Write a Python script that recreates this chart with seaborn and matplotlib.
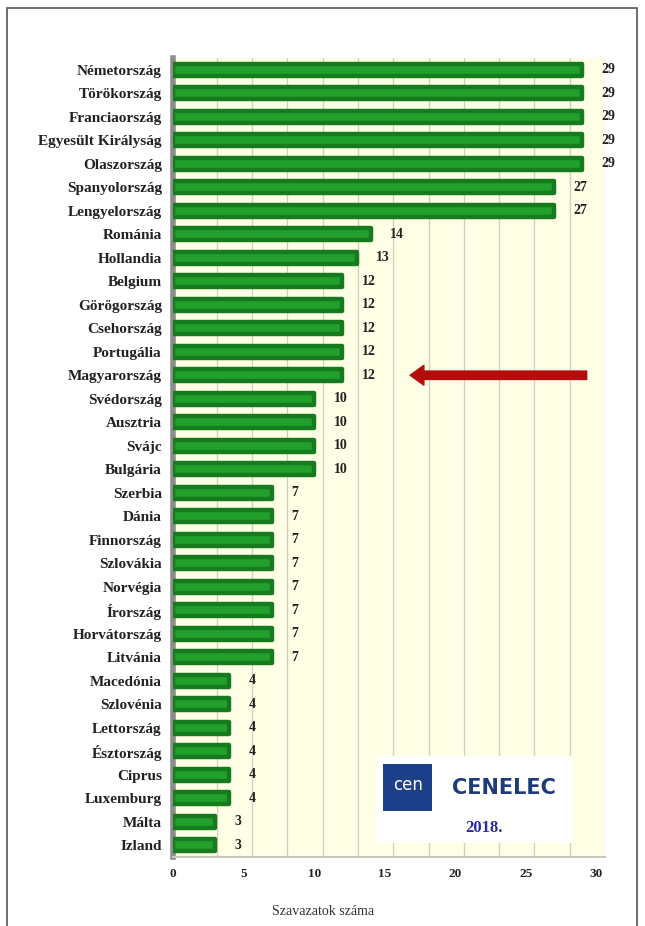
import numpy as np
import pandas as pd
import matplotlib
matplotlib.use('Agg')
import matplotlib.pyplot as plt
import matplotlib.ticker as mticker
from matplotlib.patches import Rectangle
import seaborn as sns

# --- data ---
countries = ["Németország", "Törökország", "Franciaország", "Egyesült Királyság",
             "Olaszország", "Spanyolország", "Lengyelország", "Románia", "Hollandia",
             "Belgium", "Görögország", "Csehország", "Portugália", "Magyarország",
             "Svédország", "Ausztria", "Svájc", "Bulgária", "Szerbia", "Dánia",
             "Finnország", "Szlovákia", "Norvégia", "Írország", "Horvátország",
             "Litvánia", "Macedónia", "Szlovénia", "Lettország", "Észtország",
             "Ciprus", "Luxemburg", "Málta", "Izland"]
votes = [29, 29, 29, 29, 29, 27, 27, 14, 13, 12, 12, 12, 12, 12, 10, 10, 10, 10,
         7, 7, 7, 7, 7, 7, 7, 7, 4, 4, 4, 4, 4, 4, 3, 3]
x_ticks = [0, 5, 10, 15, 20, 25, 30]
highlight = "Magyarország"

df = pd.DataFrame({'Ország': countries, 'Szavazat': votes})

sns.set_style('white')
plt.rcParams['font.family'] = ['Liberation Serif', 'DejaVu Serif']

fig = plt.figure(figsize=(6.45, 9.26), dpi=100)
ax = fig.add_axes([173 / 645, 1 - 857 / 926, 432 / 645, 799 / 926])
ax.set_facecolor('#FFFFE6')

sns.barplot(data=df, x='Szavazat', y='Ország', orient='h', color='#22a02c',
            width=0.52, saturation=1, ax=ax, zorder=3,
            edgecolor='#167a1e', linewidth=3.2)
for p in ax.patches:
    p.set_joinstyle('round')

ax.bar_label(ax.containers[0], padding=14, fontsize=10, fontweight='bold',
             color='#222222')

# --- axes styling ---
ax.set_xlim(0, 30.6)
ax.set_xticks(x_ticks)
ax.xaxis.set_minor_locator(mticker.FixedLocator(np.arange(3.1, 31, 2.5)))
ax.grid(which='minor', axis='x', color='#cfcfbf', lw=0.9, zorder=0)
ax.tick_params(axis='both', which='both', length=0)
ax.tick_params(axis='y', pad=8, labelsize=11)
ax.tick_params(axis='x', pad=8, labelsize=9.5)
for lab in ax.get_yticklabels() + ax.get_xticklabels():
    lab.set_fontweight('bold')
    lab.set_color('#222222')

ax.set_ylabel('')
ax.set_xlabel('Szavazatok száma', fontsize=10, color='#333333')
ax.xaxis.set_label_coords(0.347, -0.060)

for s in ['top', 'right']:
    ax.spines[s].set_visible(False)
ax.spines['left'].set_color('#8c8c8c')
ax.spines['left'].set_linewidth(4)
ax.spines['bottom'].set_color('#c8c8c0')
ax.spines['bottom'].set_linewidth(1.5)

# --- red arrow pointing at Magyarország ---
hi = countries.index(highlight)
ax.annotate('', xy=(votes[hi] + 4.6, hi), xytext=(max(votes) + 0.5, hi),
            arrowprops=dict(arrowstyle='simple,head_length=0.9,head_width=1.3,tail_width=0.55',
                            color='#b40c0c', mutation_scale=11), zorder=5)

# --- CEN / CENELEC logo box ---
ax.add_patch(Rectangle((0.47, 0.018), 0.455, 0.108, transform=ax.transAxes,
                       facecolor='white', edgecolor='none', zorder=4))
ax.add_patch(Rectangle((0.487, 0.058), 0.113, 0.059, transform=ax.transAxes,
                       facecolor='#1d3f8a', edgecolor='none', zorder=5))
ax.text(0.543, 0.090, 'cen', transform=ax.transAxes, ha='center', va='center',
        fontsize=12, color='white', family='DejaVu Sans', zorder=6)
ax.text(0.765, 0.086, 'CENELEC', transform=ax.transAxes, ha='center', va='center',
        fontsize=15, fontweight='bold', color='#1d3a7a', family='DejaVu Sans Condensed',
        zorder=6)
ax.text(0.72, 0.036, '2018.', transform=ax.transAxes, ha='center', va='center',
        fontsize=12, fontweight='bold', color='#2b2ba0', zorder=6)

# --- outer frame ---
fig.patches.append(Rectangle((7 / 645, -0.02), 630 / 645, (926 - 8) / 926 + 0.02,
                             transform=fig.transFigure, fill=False,
                             edgecolor='#555555', lw=1.2))

fig.savefig('out.png', dpi=100)
